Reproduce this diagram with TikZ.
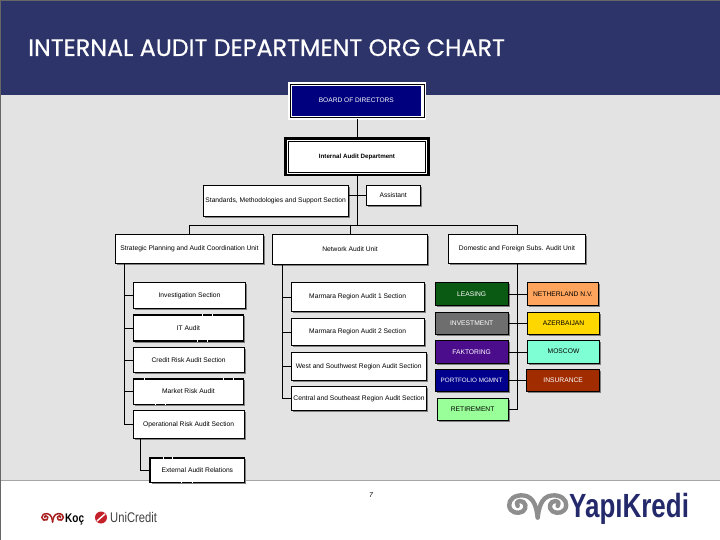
\documentclass[tikz,border=0pt]{standalone}
\usepackage{fontspec}
\setmainfont{Liberation Sans}
\newfontfamily\titlefont[FakeBold=0.5]{Poppins}
\usetikzlibrary{shadows}
\definecolor{hdr}{HTML}{2D3469}
\definecolor{bgc}{HTML}{E3E3E3}
\definecolor{logoblue}{HTML}{24296B}
\definecolor{logogray}{HTML}{8E8E8E}
\definecolor{boardblue}{HTML}{00007E}
\definecolor{cleasing}{HTML}{0B5A14}
\definecolor{cinvest}{HTML}{6E6E6E}
\definecolor{cfak}{HTML}{4B0D8C}
\definecolor{cport}{HTML}{00008C}
\definecolor{cret}{HTML}{99FF99}
\definecolor{cneth}{HTML}{FFA45C}
\definecolor{cazer}{HTML}{FFD700}
\definecolor{cmos}{HTML}{7FFFD4}
\definecolor{cins}{HTML}{A02C00}
\definecolor{kocred}{HTML}{A82020}
\definecolor{ucred}{HTML}{C4202A}
\tikzset{
  orgbox/.style={draw=black,fill=white,line width=0.8pt,inner sep=0pt,outer sep=0pt,text=black,align=center,
    font=\fontsize{6.7}{8}\selectfont,
    drop shadow={shadow xshift=1.5pt,shadow yshift=-1.5pt,fill=black!50,opacity=1}},
  thickbox/.style={orgbox,line width=1.6pt},
  lightc/.style={orgbox,fill=#1},
  darkc/.style={orgbox,fill=#1,text=white},
  link/.style={draw=black,line width=0.8pt},
  gap/.style={draw=white,line width=1.7pt},
  pics/ram/.style 2 args={code={
    \draw[#1,line width=#2,line cap=round,line join=round]
      (0,12) .. controls (-1,4) and (-3,-9) .. (-14,-10)
      .. controls (-23,-11) and (-29,-6) .. (-28.5,0)
      .. controls (-28,7) and (-20,9) .. (-15,6)
      .. controls (-10,3) and (-12,-5) .. (-18,-4.5)
      .. controls (-21,-4) and (-22,-1) .. (-20,0.5);
    \draw[#1,line width=#2,line cap=round,line join=round]
      (0,12) .. controls (1,4) and (3,-9) .. (14,-10)
      .. controls (23,-11) and (29,-6) .. (28.5,0)
      .. controls (28,7) and (20,9) .. (15,6)
      .. controls (10,3) and (12,-5) .. (18,-4.5)
      .. controls (21,-4) and (22,-1) .. (20,0.5);
  }}
}
\newcommand{\bx}[7][orgbox]{%
  \pgfmathsetmacro{\bxw}{#5-#3}\pgfmathsetmacro{\bxh}{#6-#4}%
  \pgfmathsetmacro{\bxx}{(#3+#5)/2}\pgfmathsetmacro{\bxy}{(#4+#6)/2}%
  \node[#1,minimum width=\bxw pt,minimum height=\bxh pt] (#2) at (\bxx,\bxy) {#7};}
\begin{document}
\begin{tikzpicture}[x=1pt,y=-1pt]
\useasboundingbox (0,0) rectangle (720,540);
% slide background
\fill[white] (0,0) rectangle (720,540);
\fill[bgc] (0,95) rectangle (720,480);
\fill[hdr] (0,0) rectangle (720,95);
\draw[black!35,line width=0.7pt] (0,480) -- (720,480);
\draw[black!60,line width=0.8pt] (0,0) rectangle (720,540);
\node[anchor=base west,inner sep=0pt,text=white,font=\titlefont\fontsize{23.8}{26}\selectfont] (title) at (28,56) {INTERNAL AUDIT DEPARTMENT ORG CHART};

% top boxes
\bx[draw=white,fill=white,line width=0.5pt,inner sep=0,outer sep=0]{board}{288.5}{82.5}{425.5}{119}{}
\bx[draw=black,fill=white,line width=0.6pt,inner sep=0,outer sep=0]{boardline}{290}{84}{424}{117.5}{}
\bx[fill=boardblue,draw=none,inner sep=0,outer sep=0,text=white,font=\fontsize{6.6}{8}\selectfont]{boardin}{291.7}{85.7}{421}{115.7}{BOARD OF DIRECTORS}
\bx[orgbox,line width=2.4pt,font=\fontsize{6.2}{8}\selectfont\bfseries,drop shadow={shadow xshift=1.2pt,shadow yshift=-1.2pt,fill=black,opacity=1}]{iad}{285.5}{138.5}{428.5}{175}{Internal Audit Department}
\draw[black,line width=0.6pt] ([shift={(2.8,2.8)}]iad.north west) rectangle ([shift={(-2.8,-2.8)}]iad.south east);
\bx{std}{203.3}{185.3}{348}{216.7}{Standards, Methodologies and Support Section}
\bx{assist}{366.3}{185.3}{420}{205.7}{Assistant}
\bx{strat}{115.3}{234.3}{263.7}{263.7}{Strategic Planning and Audit Coordination Unit}
\bx{net}{272.3}{234.3}{427.7}{264.7}{Network Audit Unit}
\bx{dom}{448.3}{234.3}{585.7}{263.7}{Domestic and Foreign Subs. Audit Unit}

% left column
\bx{inv}{133.3}{282.7}{245.7}{308.3}{Investigation Section}
\bx[thickbox]{it}{133.3}{314.8}{243.5}{341}{IT Audit}
\bx{credit}{133.3}{347.3}{244}{372.7}{Credit Risk Audit Section}
\bx[thickbox]{market}{133.3}{378.8}{243.5}{404.3}{Market Risk Audit}
\bx{oper}{133.3}{410.3}{244}{438.7}{Operational Risk Audit Section}
\bx[thickbox]{ext}{150.2}{457.8}{244.5}{482.3}{External Audit Relations}

% middle column
\bx{mar}{291.3}{282.7}{424}{311.7}{Marmara Region Audit 1 Section}
\bx{marb}{291.3}{318.3}{424}{345.7}{Marmara Region Audit 2 Section}
\bx{west}{291.3}{352.3}{426}{380.7}{West and Southwest Region Audit Section}
\bx{central}{291.3}{386.3}{426.7}{410.3}{Central and Southeast Region Audit Section}

% subsidiaries
\bx[darkc=cleasing]{leasing}{435.3}{282.3}{508}{305.7}{LEASING}
\bx[darkc=cinvest]{invest}{435.3}{312}{508}{334.7}{INVESTMENT}
\bx[darkc=cfak]{fak}{435.3}{340.3}{508}{363.7}{FAKTORING}
\bx[darkc=cport,font=\fontsize{6.3}{8}\selectfont]{port}{435.3}{369.3}{508}{391.7}{PORTFOLIO MGMNT}
\bx[lightc=cret]{ret}{437.3}{398}{508}{420.7}{RETIREMENT}
\bx[lightc=cneth]{neth}{527.3}{282.3}{598.7}{305.7}{NETHERLAND N.V.}
\bx[lightc=cazer]{azer}{527.3}{312.3}{599.7}{334.7}{AZERBAIJAN}
\bx[lightc=cmos]{mos}{527.3}{340.3}{599.7}{363}{MOSCOW}
\bx[darkc=cins]{ins}{526.7}{369.3}{599.7}{391.7}{INSURANCE}

% connector junctions
\coordinate (busy) at (0,225.3);
\coordinate (spineL) at (124.7,0);
\coordinate (spineM) at (282.3,0);
\coordinate (spineR) at (517.7,0);
\coordinate (stratdrop) at (189.7,0);
\coordinate (netdrop) at (350.3,0);
\coordinate (extdrop) at (140.3,0);

% connectors
\draw[link] (board.south) -- (iad.north);
\draw[link] (iad.south) -- (iad.south |- busy);
\draw[link] (stratdrop |- busy) -- (spineR |- busy);
\draw[link] (stratdrop |- busy) -- (stratdrop |- strat.north);
\draw[link] (netdrop |- busy) -- (netdrop |- net.north);
\draw[link] (spineR |- busy) -- (spineR |- dom.north);
\draw[link] (assist.west) -- (assist.west -| std.east);
\draw[link] (spineL |- strat.south) -- (spineL |- oper.west) -- (oper.west);
\foreach \n in {inv,it,credit,market} \draw[link] (spineL |- \n.west) -- (\n.west);
\draw[link] (extdrop |- oper.south) -- (extdrop |- ext.west) -- (ext.west);
\draw[link] (spineM |- net.south) -- (spineM |- central.west) -- (central.west);
\foreach \n in {mar,marb,west} \draw[link] (spineM |- \n.west) -- (\n.west);
\draw[link] (spineR |- dom.south) -- (spineR |- ret.east) -- (ret.east);
\foreach \a/\b in {leasing/neth,invest/azer,fak/mos,port/ins} \draw[link] (\a.east) -- (\a.east -| \b.west);

% small breaks in the heavy outlines
\foreach \xa/\ya in {202.3/314.8,212.3/314.8,197.7/341,207.7/341,144/378.8,223/378.8,233/378.8,155.7/404.3,165.7/404.3,163/457.8,172/457.8,181/482.3,192/482.3}
  \draw[gap] (\xa-0.5,\ya) -- (\xa+0.5,\ya);

% page number
\node[inner sep=0pt,font=\fontsize{7}{8}\selectfont\itshape] (pageno) at (371,495) {7};

% logos
\pic at (537.7,505.5) {ram={logogray}{4.4pt}};
\node[anchor=base west,inner sep=0pt,text=logoblue,font=\fontsize{33.5}{36}\selectfont\bfseries] (yk) at (569,517) {\scalebox{0.775}[1]{YapıKredi}};
\pic[scale=0.38] at (52.6,517.5) {ram={kocred}{1.5pt}};
\node[anchor=base west,inner sep=0pt,text=black,font=\fontsize{12.5}{14}\selectfont\bfseries] (koc) at (65,522) {\scalebox{0.8}[1]{Koç}};
\fill[ucred] (101,517.5) circle (6);
\draw[white,line width=1.4pt] (97,521) -- (105,514);
\node[anchor=base west,inner sep=0pt,text=black!75,font=\fontsize{14}{16}\selectfont] (uc) at (110,522) {\scalebox{0.8}[1]{UniCredit}};
\end{tikzpicture}
\end{document}
